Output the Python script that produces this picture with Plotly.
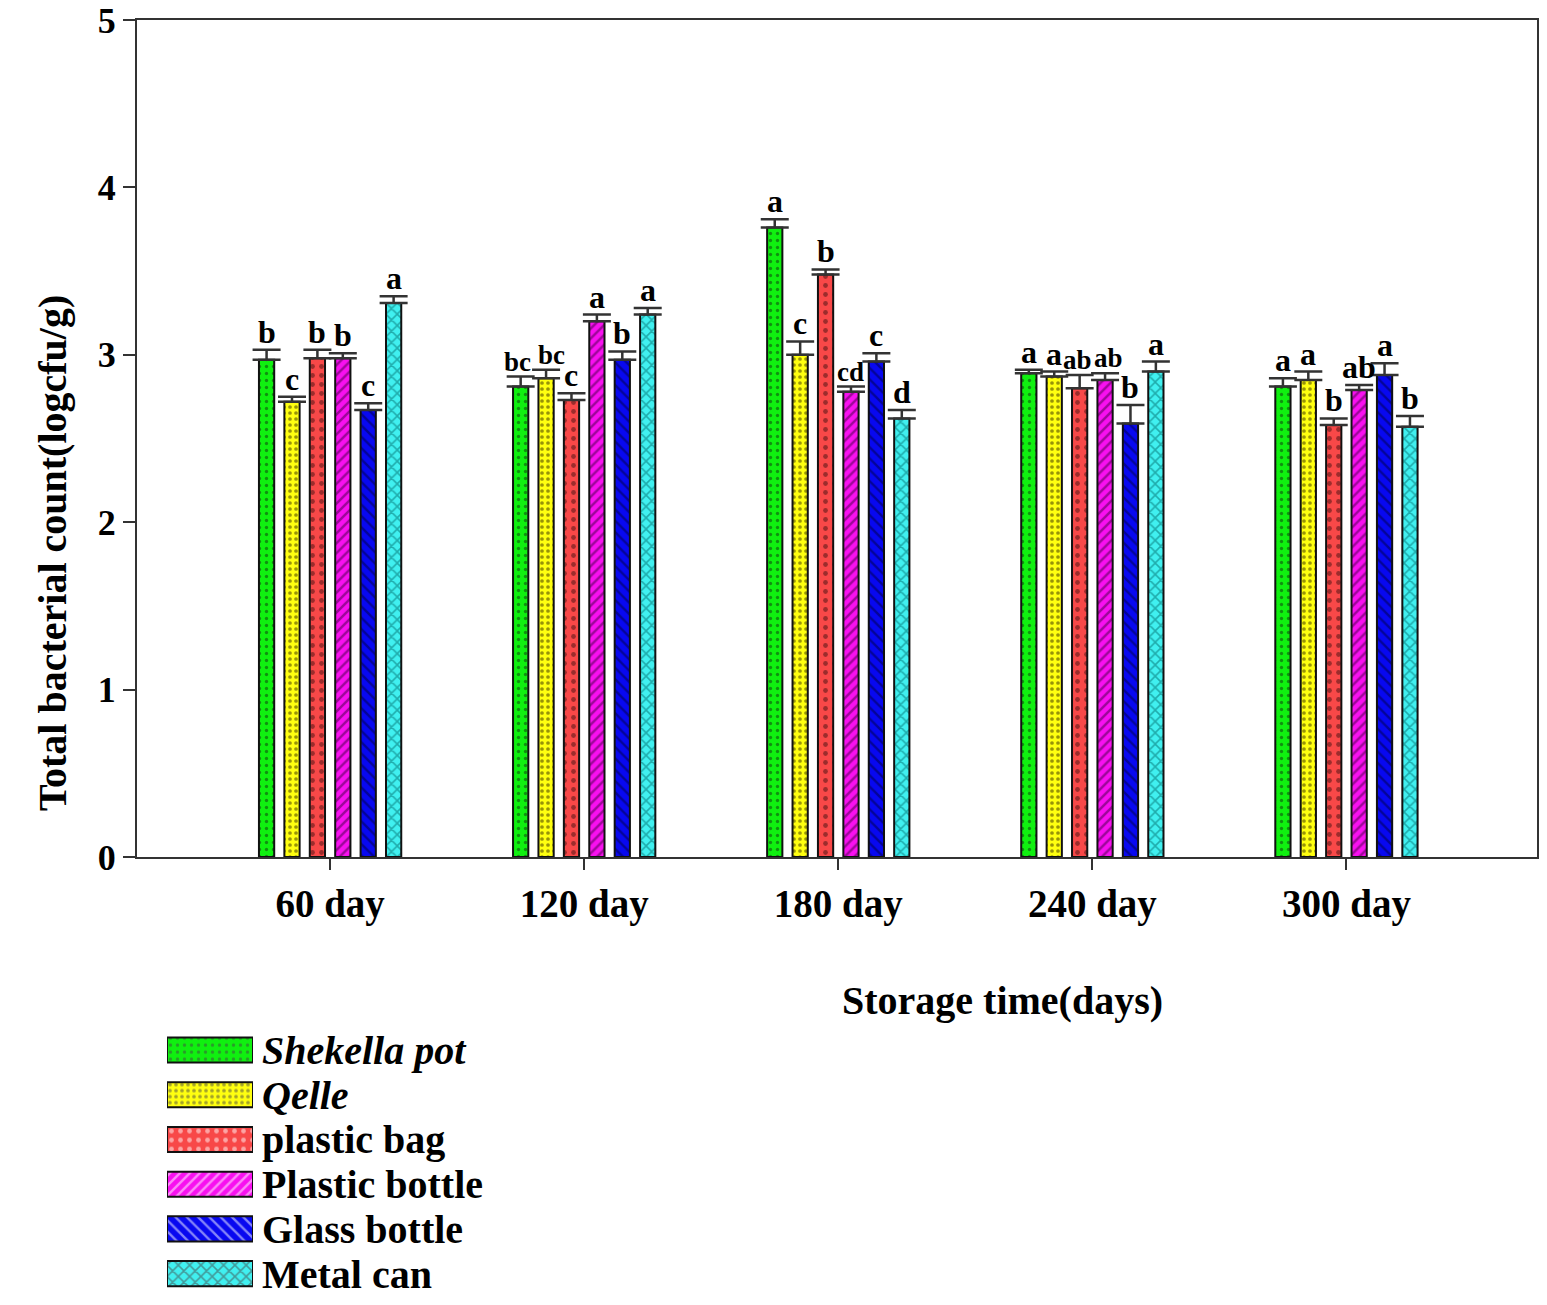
import plotly.graph_objects as go

days = ["60 day", "120 day", "180 day", "240 day", "300 day"]
series = ["Shekella pot", "Qelle", "plastic bag", "Plastic bottle", "Glass bottle", "Metal can"]
legend_labels = ["<i>Shekella pot</i>", "<i>Qelle</i>", "plastic bag", "Plastic bottle", "Glass bottle", "Metal can"]

shekella_pot = [2.97, 2.81, 3.76, 2.89, 2.81]
qelle = [2.72, 2.86, 3.00, 2.87, 2.85]
plastic_bag = [2.98, 2.73, 3.48, 2.80, 2.58]
plastic_bottle = [2.98, 3.20, 2.78, 2.85, 2.79]
glass_bottle = [2.67, 2.97, 2.96, 2.59, 2.88]
metal_can = [3.31, 3.24, 2.62, 2.90, 2.57]

err_shekella_pot = [0.06, 0.06, 0.05, 0.02, 0.05]
err_qelle = [0.03, 0.05, 0.08, 0.03, 0.05]
err_plastic_bag = [0.05, 0.04, 0.03, 0.08, 0.04]
err_plastic_bottle = [0.03, 0.04, 0.03, 0.04, 0.03]
err_glass_bottle = [0.04, 0.05, 0.05, 0.11, 0.07]
err_metal_can = [0.04, 0.04, 0.05, 0.06, 0.065]

let_shekella_pot = ["b", "bc", "a", "a", "a"]
let_qelle = ["c", "bc", "c", "a", "a"]
let_plastic_bag = ["b", "c", "b", "ab", "b"]
let_plastic_bottle = ["b", "a", "cd", "ab", "ab"]
let_glass_bottle = ["c", "b", "c", "b", "a"]
let_metal_can = ["a", "a", "d", "a", "b"]

values = [shekella_pot, qelle, plastic_bag, plastic_bottle, glass_bottle, metal_can]
errors = [err_shekella_pot, err_qelle, err_plastic_bag, err_plastic_bottle, err_glass_bottle, err_metal_can]
letters = [let_shekella_pot, let_qelle, let_plastic_bag, let_plastic_bottle, let_glass_bottle, let_metal_can]

colors = ["#10F010", "#FFFF10", "#F84848", "#F810F0", "#0808F0", "#40F0F0"]
pat_shapes = [".", ".", ".", "/", "\\", "x"]
pat_fg = ["#103010", "#302800", "#401010", "#400040", "#000040", "#006868"]
pat_size = [7, 6, 9, 7, 8, 8]
pat_sol = [0.18, 0.3, 0.22, 0.35, 0.3, 0.35]
legend_swatch = [1, 1, 1, 1, 1, 1]

FONT = "Liberation Serif"

W, H = 1547, 1305
ml, mr, mt, mb = 137, 10, 20, 9
pw = W - ml - mr
ph = H - mt - mb
plot_bottom = H - mb


def fx(px):
    return (px - ml) / pw


def fy(py):
    return (plot_bottom - py) / ph


fig = go.Figure()

n_series = len(series)
for j in range(n_series):
    fig.add_trace(go.Bar(
        x=days, y=values[j], name=series[j], showlegend=False,
        marker=dict(color=colors[j], line=dict(color="#111111", width=2),
                    pattern=dict(shape=pat_shapes[j], fgcolor=pat_fg[j], size=pat_size[j],
                                 solidity=pat_sol[j], fillmode="overlay")),
        error_y=dict(type="data", symmetric=False, array=errors[j], arrayminus=[0] * len(days),
                     color="#333333", thickness=2.5, width=14),
        xaxis="x", yaxis="y",
    ))

# significance letters above the error caps
small_letters = {(0, 1), (1, 1), (3, 2), (2, 3), (3, 3)}
nudges = {(0, 1): -3, (1, 1): 5, (2, 3): -2, (3, 3): 3}
for j in range(n_series):
    for i in range(len(days)):
        size = 27 if (j, i) in small_letters else 32
        fig.add_annotation(
            x=i - 0.25 + 0.1 * j, y=values[j][i] + errors[j][i], xref="x", yref="y",
            text=letters[j][i], showarrow=False, yanchor="bottom", yshift=-2,
            xshift=nudges.get((j, i), 0),
            font=dict(family=FONT, size=size, color="#000000", weight="bold"),
        )

# legend swatches as a small horizontal bar panel
fig.add_trace(go.Bar(
    y=legend_labels, x=legend_swatch, orientation="h", showlegend=False, width=0.56,
    marker=dict(color=colors, line=dict(color="#111111", width=2),
                pattern=dict(shape=pat_shapes, fgcolor=pat_fg, size=pat_size,
                             solidity=pat_sol, fillmode="overlay")),
    xaxis="x2", yaxis="y2", hoverinfo="skip",
))

fig.add_annotation(text="Storage time(days)", x=fx(1002), y=fy(1000), xref="paper", yref="paper",
                   showarrow=False, xanchor="center", yanchor="middle",
                   font=dict(family=FONT, size=40, color="#000000", weight="bold"))
fig.add_annotation(text="Total bacterial count(logcfu/g)", x=fx(52), y=fy(553), xref="paper", yref="paper",
                   showarrow=False, xanchor="center", yanchor="middle", textangle=-90,
                   font=dict(family=FONT, size=40, color="#000000", weight="bold"))

fig.update_layout(
    width=W, height=H,
    margin=dict(l=ml, r=mr, t=mt, b=mb, autoexpand=False),
    paper_bgcolor="white", plot_bgcolor="white",
    barmode="group", bargap=0.4, bargroupgap=0.4,
    showlegend=False,
    xaxis=dict(domain=[0, 1], type="category", range=[-0.76, 4.75], anchor="y",
               showline=True, linecolor="#333333", linewidth=2, mirror=True,
               ticks="outside", ticklen=11, tickwidth=2, tickcolor="#333333",
               tickfont=dict(family=FONT, size=39, color="#000000", weight="bold"),
               ticklabelstandoff=0, showgrid=False, zeroline=False, automargin=False),
    yaxis=dict(domain=[fy(857), 1], range=[0, 5], dtick=1, anchor="x",
               showline=True, linecolor="#333333", linewidth=2, mirror=True,
               ticks="outside", ticklen=12, tickwidth=2, tickcolor="#333333",
               tickfont=dict(family=FONT, size=36, color="#000000", weight="bold"),
               showgrid=False, zeroline=False, automargin=False),
    xaxis2=dict(domain=[fx(167), fx(253)], range=[0, 1], anchor="y2", visible=False,
                fixedrange=True),
    yaxis2=dict(domain=[fy(1296), fy(1027.6)], anchor="x2", side="right", autorange="reversed",
                tickmode="array", tickvals=legend_labels, ticktext=legend_labels,
                showline=False, showgrid=False, zeroline=False, ticks="",
                ticklabelstandoff=8, automargin=False,
                tickfont=dict(family=FONT, size=40, color="#000000", weight="bold")),
)

fig.write_html("out.html", config={"displayModeBar": False},
               post_script="document.body.style.margin='0';document.body.style.overflow='hidden';")
